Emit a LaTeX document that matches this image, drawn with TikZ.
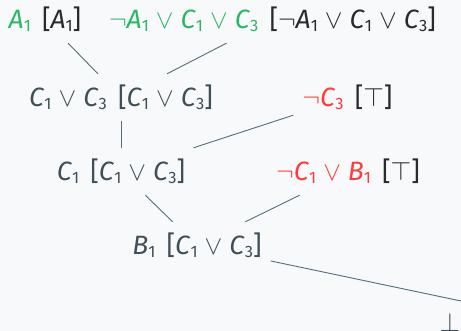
\RequirePackage{fix-cm}
\documentclass[tikz,border=0pt]{standalone}
\usepackage{fontspec}
\setmainfont{Fira Sans}
\definecolor{bg}{HTML}{F8F9FA}
\definecolor{slate}{HTML}{3F4F57}
\definecolor{grn}{HTML}{2BB865}
\definecolor{rd}{HTML}{FF3B3B}
\definecolor{ink}{HTML}{2A2A2A}
\definecolor{edgec}{HTML}{546E7A}
\newcommand\vr[2]{\textit{#1}\raisebox{-2.5pt}{\fontsize{16.5}{16}\selectfont #2}}
\newcommand\orr{\ $\vee$\ }
\newcommand\nt{$\neg$}
\newcommand\tp{$\top$}
\newcommand\bt{$\bot$}
\newcommand\gp{\hspace{0.42em}}
\tikzset{
  fm/.style={font=\fontsize{26.5}{30}\selectfont, text=slate, text height=24pt,
    text depth=5pt, inner xsep=9pt, inner ysep=9pt, anchor=base},
  link/.style={draw=edgec, line width=0.9pt}
}
\begin{document}
\begin{tikzpicture}[x=1pt,y=-1pt]
\fill[bg] (0,0) rectangle (461,331);
\useasboundingbox (0,0) rectangle (461,331);
\clip (0,0) rectangle (461,331);
\node[fm] (n1) at (45,29) {\textcolor{grn}{\vr{A}{1}}\gp\textcolor{ink}{[\vr{A}{1}]}};
\node[fm] (n2) at (272.5,29) {\textcolor{grn}{\nt\vr{A}{1}\orr\vr{C}{1}\orr\vr{C}{3}}\gp\textcolor{ink}{[\nt\vr{A}{1}\orr\vr{C}{1}\orr\vr{C}{3}]}};
\node[fm] (n3) at (121,107) {\vr{C}{1}\orr\vr{C}{3}\gp[\vr{C}{1}\orr\vr{C}{3}]};
\node[fm] (n4) at (347.5,107) {\textcolor{rd}{\nt\vr{C}{3}}\gp\textcolor{ink}{[\tp]}};
\node[fm] (n5) at (121,181) {\vr{C}{1}\gp[\vr{C}{1}\orr\vr{C}{3}]};
\node[fm] (n6) at (348,181) {\textcolor{rd}{\nt\vr{C}{1}\orr\vr{B}{1}}\gp\textcolor{ink}{[\tp]}};
\node[fm] (n7) at (197,255) {\vr{B}{1}\gp[\vr{C}{1}\orr\vr{C}{3}]};
\node[fm] (bot) at (450,332) {\bt};
\coordinate (e) at (480,305);
\draw[link] (n1) -- (n3);
\draw[link] (n2) -- (n3);
\draw[link] (n3) -- (n5);
\draw[link] (n4) -- (n5);
\draw[link] (n5) -- (n7);
\draw[link] (n6) -- (n7);
\draw[link] (n7) -- (e);
\end{tikzpicture}
\end{document}
